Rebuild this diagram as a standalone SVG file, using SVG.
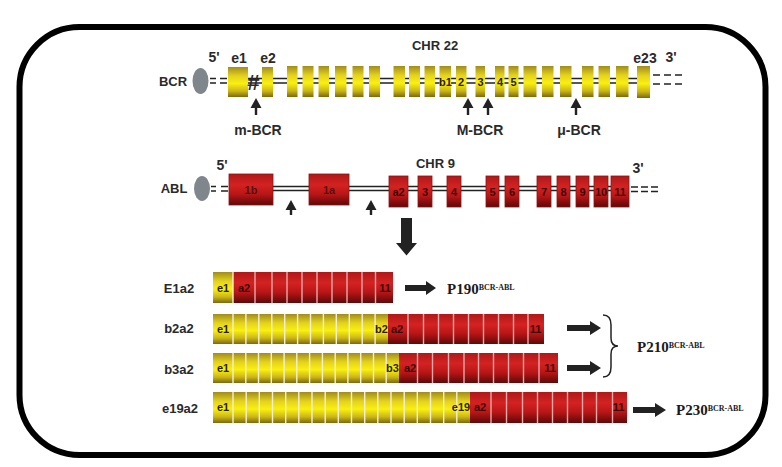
<svg xmlns="http://www.w3.org/2000/svg" width="782" height="467" viewBox="0 0 782 467">
<defs>
<linearGradient id="yg" x1="0" y1="0" x2="0" y2="1">
<stop offset="0" stop-color="#a08c1c"/><stop offset="0.3" stop-color="#e4d21c"/><stop offset="0.55" stop-color="#faf010"/><stop offset="0.8" stop-color="#cbb618"/><stop offset="1" stop-color="#7a6a10"/>
</linearGradient>
<linearGradient id="rg" x1="0" y1="0" x2="0" y2="1">
<stop offset="0" stop-color="#b01818"/><stop offset="0.35" stop-color="#d42222"/><stop offset="0.65" stop-color="#b81616"/><stop offset="1" stop-color="#5e0808"/>
</linearGradient>
<style>
.t{font-family:"Liberation Sans",Arial,sans-serif;font-weight:bold;fill:#2a2a2a}
.s{font-family:"Liberation Serif","Times New Roman",serif;font-weight:bold;fill:#1a1a1a}
.y{fill:url(#yg)}
.r{fill:url(#rg)}
.rb{fill:url(#rg);stroke:#8a1414;stroke-width:0.8}
.ln{stroke:#222;stroke-width:1.3;fill:none}
.sepy{stroke:#f4efd2;stroke-width:1.4;fill:none}
.sepr{stroke:#e6a8a8;stroke-width:1.4;fill:none}
.bl{font-family:"Liberation Sans",Arial,sans-serif;font-weight:bold;font-size:11px;fill:#2a2000}
.rl{font-family:"Liberation Sans",Arial,sans-serif;font-weight:bold;font-size:11px;fill:#3a0808}
.ov{fill:#7f878c}
.ar{fill:#222}
</style>
</defs>
<rect x="19.5" y="27" width="746" height="428" rx="60" ry="60" fill="#fff" stroke="#000" stroke-width="6"/>

<g id="connectors">
<!-- BCR lines -->
<path class="ln" d="M210,78.5H216M220,78.5H227M210,83H216M220,83H227"/>
<path class="ln" d="M248,78.5H637M248,83H637"/>
<path class="ln" d="M653,75H660M664,75H671M675,75H682M653,84H660M664,84H671M675,84H682"/>
<!-- ABL lines -->
<path class="ln" d="M211,186.5H216M221,186.5H228M211,191H216M221,191H228"/>
<path class="ln" d="M273,186.5H629M273,190.5H629"/>
<path class="ln" d="M631,187H638M641,187H648M651,187H658M631,191.5H638M641,191.5H648M651,191.5H658"/>
<!-- up arrows -->
<path class="ar" d="M256,98l-5.5,10h4.3v7h2.4v-7h4.3z"/>
<path class="ar" d="M468,98l-5.5,10h4.3v7h2.4v-7h4.3z"/>
<path class="ar" d="M488,98l-5.5,10h4.3v7h2.4v-7h4.3z"/>
<path class="ar" d="M576,98l-5.5,10h4.3v7h2.4v-7h4.3z"/>
<path class="ar" d="M291,200l-5.5,10h4.3v5h2.4v-5h4.3z"/>
<path class="ar" d="M371,200l-5.5,10h4.3v5h2.4v-5h4.3z"/>
<!-- down arrow -->
<path class="ar" d="M401,218H412V243H417L406.5,255.5L396,243H401Z"/>
<!-- right arrows -->
<path class="ar" d="M405,285H426V281L436,288L426,295V291H405Z"/>
<path class="ar" d="M567,325H590V321L601,328L590,335V331H567Z"/>
<path class="ar" d="M567,365H590V361L601,368L590,375V371H567Z"/>
<path class="ar" d="M633,407H655V403L666,410L655,417V413H633Z"/>
<!-- brace -->
<path d="M603,315Q611,315 611,325V338Q611,346 618,346Q611,346 611,354V367Q611,377 603,377" fill="none" stroke="#222" stroke-width="1.5"/>
</g>

<g id="bcr">
<ellipse class="ov" cx="200.5" cy="81" rx="8" ry="13"/>
<text class="t" x="173" y="86" font-size="13" text-anchor="middle">BCR</text>
<text class="t" x="214" y="62" font-size="14" text-anchor="middle">5'</text>
<text class="t" x="239" y="63" font-size="14" text-anchor="middle">e1</text>
<text class="t" x="268" y="63" font-size="14" text-anchor="middle">e2</text>
<text class="t" x="435" y="50" font-size="13" text-anchor="middle">CHR 22</text>
<text class="t" x="645" y="63" font-size="14" text-anchor="middle">e23</text>
<text class="t" x="671" y="62" font-size="14" text-anchor="middle">3'</text>
<rect class="y" x="228" y="67" width="20" height="30"/>
<text class="t" x="253" y="90" font-size="22" font-style="italic" text-anchor="middle">#</text>
<rect class="y" x="262" y="67" width="11" height="30"/>
<rect class="y" x="287" y="66" width="10.5" height="31"/>
<rect class="y" x="302.5" y="66" width="11" height="31"/>
<rect class="y" x="318.5" y="66" width="10.5" height="31"/>
<rect class="y" x="335" y="66" width="11.5" height="31"/>
<rect class="y" x="352.5" y="66" width="11" height="31"/>
<rect class="y" x="369" y="66" width="11" height="31"/>
<rect class="y" x="393.5" y="66" width="11.5" height="31"/>
<rect class="y" x="409" y="66" width="11" height="31"/>
<rect class="y" x="424.5" y="66" width="10.5" height="31"/>
<rect class="y" x="439.5" y="66" width="11.5" height="31"/>
<rect class="y" x="456" y="66" width="10.5" height="31"/>
<rect class="y" x="475.5" y="66" width="9.5" height="31"/>
<rect class="y" x="495" y="66" width="9.5" height="31"/>
<rect class="y" x="508.5" y="66" width="10" height="31"/>
<rect class="y" x="523.5" y="66" width="13" height="31"/>
<rect class="y" x="542" y="66" width="11.5" height="31"/>
<rect class="y" x="560" y="66" width="11.5" height="31"/>
<rect class="y" x="582" y="66" width="11.5" height="31"/>
<rect class="y" x="598.5" y="66" width="11.5" height="31"/>
<rect class="y" x="616" y="66" width="12.5" height="31"/>
<rect class="y" x="637" y="66" width="13" height="32"/>
<text class="bl" x="445.5" y="86" text-anchor="middle">b1</text>
<text class="bl" x="461" y="86" text-anchor="middle">2</text>
<text class="bl" x="480.5" y="86" text-anchor="middle">3</text>
<text class="bl" x="500" y="86" text-anchor="middle">4</text>
<text class="bl" x="513.5" y="86" text-anchor="middle">5</text>
<text class="t" x="258" y="135" font-size="14" text-anchor="middle">m-BCR</text>
<text class="t" x="480" y="135" font-size="14" text-anchor="middle">M-BCR</text>
<text class="t" x="579" y="135" font-size="14" text-anchor="middle">μ-BCR</text>
</g>

<g id="abl">
<ellipse class="ov" cx="202" cy="188.5" rx="8" ry="12.5"/>
<text class="t" x="174" y="193" font-size="13" text-anchor="middle">ABL</text>
<text class="t" x="222" y="170" font-size="14" text-anchor="middle">5'</text>
<text class="t" x="435.5" y="168" font-size="13" text-anchor="middle">CHR 9</text>
<text class="t" x="638" y="173" font-size="14" text-anchor="middle">3'</text>
<rect class="rb" x="229" y="174" width="44" height="31"/>
<rect class="rb" x="309" y="174" width="40" height="31"/>
<rect class="rb" x="389" y="176" width="19" height="31"/>
<rect class="rb" x="418" y="176" width="14" height="31"/>
<rect class="rb" x="447" y="176" width="14" height="31"/>
<rect class="rb" x="486" y="176" width="13" height="31"/>
<rect class="rb" x="505" y="176" width="14" height="31"/>
<rect class="rb" x="537" y="176" width="14" height="31"/>
<rect class="rb" x="557" y="176" width="13" height="31"/>
<rect class="rb" x="576" y="176" width="13" height="31"/>
<rect class="rb" x="594" y="176" width="14" height="31"/>
<rect class="rb" x="611" y="176" width="18" height="31"/>
<text class="rl" x="251" y="194" font-size="12" text-anchor="middle" style="fill:#5a1010">1b</text>
<text class="rl" x="329" y="194" font-size="12" text-anchor="middle" style="fill:#5a1010">1a</text>
<text class="rl" x="398.5" y="196" text-anchor="middle">a2</text>
<text class="rl" x="425" y="196" text-anchor="middle">3</text>
<text class="rl" x="454" y="196" text-anchor="middle">4</text>
<text class="rl" x="492.5" y="196" text-anchor="middle">5</text>
<text class="rl" x="512" y="196" text-anchor="middle">6</text>
<text class="rl" x="544" y="196" text-anchor="middle">7</text>
<text class="rl" x="563.5" y="196" text-anchor="middle">8</text>
<text class="rl" x="582.5" y="196" text-anchor="middle">9</text>
<text class="rl" x="601" y="196" text-anchor="middle">10</text>
<text class="rl" x="620" y="196" text-anchor="middle">11</text>
</g>

<g id="e1a2">
<text class="t" x="179" y="293" font-size="13" text-anchor="middle">E1a2</text>
<rect class="y" x="213" y="272" width="20" height="31"/>
<rect class="r" x="233" y="272" width="160" height="31"/>
<path class="sepr" d="M255,272V303M272,272V303M287,272V303M302,272V303M317,272V303M332,272V303M347,272V303M362,272V303M375.5,272V303"/>
<path class="sepy" d="M233,272V303"/>
<text class="bl" x="223" y="292" text-anchor="middle">e1</text>
<text class="rl" x="244" y="292" text-anchor="middle">a2</text>
<text class="rl" x="385" y="292" text-anchor="middle">11</text>
<text class="s" x="447" y="294" font-size="15">P190<tspan font-size="8" dy="-4">BCR-ABL</tspan></text>
</g>

<g id="b2a2">
<text class="t" x="179" y="333" font-size="13" text-anchor="middle">b2a2</text>
<rect class="y" x="213" y="314" width="175" height="30"/>
<rect class="r" x="388" y="314" width="156" height="30"/>
<path class="sepy" d="M233,314V344M245.9,314V344M258.8,314V344M271.8,314V344M284.7,314V344M297.6,314V344M310.5,314V344M323.4,314V344M336.3,314V344M349.3,314V344M362.2,314V344M375.1,314V344"/>
<path class="sepr" d="M408,314V344M423.5,314V344M438.5,314V344M453.5,314V344M468.5,314V344M483.5,314V344M498.5,314V344M513.5,314V344M528,314V344"/>
<text class="bl" x="223" y="333" text-anchor="middle">e1</text>
<text class="bl" x="381.5" y="333" text-anchor="middle">b2</text>
<text class="rl" x="397" y="333" text-anchor="middle">a2</text>
<text class="rl" x="535.5" y="333" text-anchor="middle">11</text>
<text class="s" x="637" y="352" font-size="15">P210<tspan font-size="8" dy="-4">BCR-ABL</tspan></text>
</g>

<g id="b3a2">
<text class="t" x="179" y="374" font-size="13" text-anchor="middle">b3a2</text>
<rect class="y" x="213" y="353" width="186" height="30"/>
<rect class="r" x="399" y="353" width="159" height="30"/>
<path class="sepy" d="M233,353V383M245.8,353V383M258.5,353V383M271.3,353V383M284.1,353V383M296.8,353V383M309.6,353V383M322.4,353V383M335.2,353V383M347.9,353V383M360.7,353V383M373.5,353V383M386.2,353V383"/>
<path class="sepr" d="M417.5,353V383M432.5,353V383M448.5,353V383M464,353V383M478.5,353V383M493.5,353V383M508.5,353V383M523.5,353V383M539,353V383"/>
<text class="bl" x="223" y="372" text-anchor="middle">e1</text>
<text class="bl" x="392.5" y="372" text-anchor="middle">b3</text>
<text class="rl" x="410" y="372" text-anchor="middle">a2</text>
<text class="rl" x="550" y="372" text-anchor="middle">11</text>
</g>

<g id="e19a2">
<text class="t" x="180" y="413" font-size="13" text-anchor="middle">e19a2</text>
<rect class="y" x="213" y="392" width="257" height="31"/>
<rect class="r" x="470" y="392" width="157" height="31"/>
<path class="sepy" d="M233,392V423M246.2,392V423M259.3,392V423M272.5,392V423M285.7,392V423M298.8,392V423M312,392V423M325.2,392V423M338.3,392V423M351.5,392V423M364.7,392V423M377.8,392V423M391,392V423M404.2,392V423M417.3,392V423M430.5,392V423M443.7,392V423M456.8,392V423"/>
<path class="sepr" d="M491,392V423M506.5,392V423M522.5,392V423M537.5,392V423M552.5,392V423M567.5,392V423M582.5,392V423M596.5,392V423M612.5,392V423"/>
<text class="bl" x="223" y="411" text-anchor="middle">e1</text>
<text class="bl" x="461" y="411" text-anchor="middle">e19</text>
<text class="rl" x="480" y="411" text-anchor="middle">a2</text>
<text class="rl" x="618.5" y="411" text-anchor="middle">11</text>
<text class="s" x="676" y="415" font-size="15">P230<tspan font-size="8" dy="-4">BCR-ABL</tspan></text>
</g>
</svg>
